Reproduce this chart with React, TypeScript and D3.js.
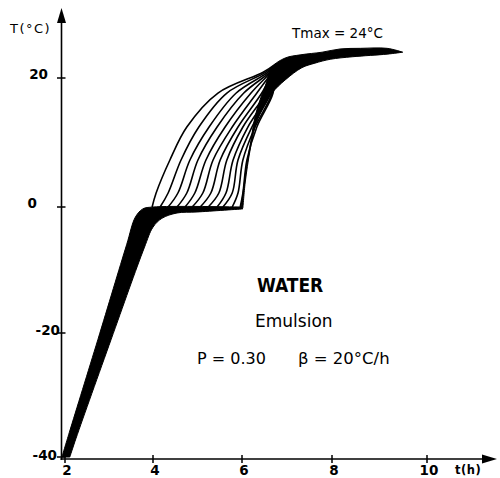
import React from "react";
import * as d3 from "d3";

type P = [number, number];

// axis ticks
const xTicks = [2, 4, 6, 8, 10];
const yTicks = [-40, -20, 0, 20];
const xTickLabels = ["2", "4", "6", "8", "10"];
const yTickLabels = ["-40", "-20", "0", "20"];

// heating ramp band (t in h, T in °C): left/upper edge and right/lower edge
const rampLeft: P[] = [
  [1.93, -40], [2.1, -36.0], [2.75, -21.0], [3.4, -6.0], [3.6, -1.6],
  [3.77, -0.3], [4.0, 0], [5.98, 0],
];
const rampRight: P[] = [
  [2.11, -40], [2.25, -37.0], [3.05, -21.0], [3.8, -6.5], [4.0, -3.2], [4.2, -1.8],
  [4.54, -0.95], [4.99, -0.79], [6.02, -0.3],
];

// fan of melting curves: temperature levels and the time each curve crosses them
const fanLevels = [0, 2.17, 7.29, 12.4, 17.67, 20.9, 22.2];
const fanTimes = [
  [3.98, 4.07, 4.38, 4.76, 5.46, 6.47, 6.75],
  [4.16, 4.34, 4.63, 5.03, 5.66, 6.53, 6.76],
  [4.34, 4.56, 4.83, 5.26, 5.87, 6.58, 6.77],
  [4.54, 4.76, 5.01, 5.44, 6.04, 6.62, 6.78],
  [4.72, 4.94, 5.19, 5.62, 6.2, 6.64, 6.79],
  [4.88, 5.12, 5.35, 5.78, 6.33, 6.67, 6.8],
  [5.06, 5.3, 5.51, 5.91, 6.44, 6.69, 6.8],
  [5.24, 5.48, 5.66, 6.02, 6.53, 6.71, 6.81],
  [5.44, 5.64, 5.8, 6.13, 6.6, 6.71, 6.81],
  [5.57, 5.78, 5.91, 6.22, 6.64, 6.73, 6.82],
  [5.78, 5.91, 6.02, 6.29, 6.67, 6.73, 6.82],
  [5.96, 6.02, 6.11, 6.33, 6.69, 6.73, 6.82],
];

// final thick band up to Tmax
const bandUpper: P[] = [
  [5.98, 0], [6.09, 5.7], [6.2, 10.4], [6.29, 14.0], [6.4, 16.6], [6.52, 18.8],
  [6.67, 21.7], [6.96, 23.1], [7.31, 23.6], [7.78, 24.0], [8.17, 24.5],
  [8.6, 24.6], [9.16, 24.6], [9.49, 24.0],
];
const bandLower: P[] = [
  [6.02, -0.15], [6.07, 3.72], [6.18, 8.84], [6.29, 12.4], [6.44, 15.0],
  [6.67, 17.7], [6.96, 19.7], [7.33, 21.6], [7.62, 22.3], [7.96, 22.9],
  [8.44, 23.3], [9.16, 23.7], [9.49, 24.0],
];

const W = 500;
const H = 478;
const AXIS_X = 61.5;
const AXIS_Y = 459;
const yLabelRight = [57, 60, 37, 48];
const yLabelBase = [460, 335, 208, 79];

export default function App() {
  const x = d3.scaleLinear().domain([2, 4, 6, 8, 10]).range([65, 153, 242, 332, 427]);
  const y = d3.scaleLinear().domain([-40, -20, 0, 20]).range([457, 333, 207, 78]);

  const line = d3
    .line<P>()
    .x((d) => x(d[0]))
    .y((d) => y(d[1]))
    .curve(d3.curveCatmullRom.alpha(0.5));

  const closed = (a: P[], b: P[]) => {
    const p1 = line(a) || "";
    const p2 = (line(b.slice().reverse()) || "").replace(/^M/, "L");
    return p1 + p2 + "Z";
  };

  const rampPath = closed(rampLeft, rampRight);
  const bandPath = closed(bandUpper, bandLower);

  const fanPaths = fanTimes.map((ts) =>
    line(ts.map((t, i) => [t, fanLevels[i]] as P)) || ""
  );

  const font = "'DejaVu Sans', sans-serif";

  return (
    <svg
      width={W}
      height={H}
      viewBox={`0 0 ${W} ${H}`}
      style={{ position: "absolute", left: 0, top: 0, background: "#fff" }}
    >
      <rect x={0} y={0} width={W} height={H} fill="#fff" />
      {/* axes */}
      <line x1={AXIS_X} y1={AXIS_Y + 1} x2={AXIS_X} y2={16} stroke="#000" strokeWidth={1.6} />
      <path d={`M${AXIS_X},8 L${AXIS_X - 4.5},23 L${AXIS_X + 4.5},23 Z`} fill="#000" />
      <line x1={AXIS_X - 1} y1={AXIS_Y} x2={488} y2={AXIS_Y} stroke="#000" strokeWidth={1.6} />
      <path d={`M497,${AXIS_Y} L482,${AXIS_Y - 4.5} L482,${AXIS_Y + 4.5} Z`} fill="#000" />

      {yTicks.map((v, i) => (
        <g key={"y" + v}>
          <line x1={AXIS_X - 4.5} x2={AXIS_X + 4} y1={y(v)} y2={y(v)} stroke="#000" strokeWidth={1.5} />
          <text
            x={yLabelRight[i]}
            y={yLabelBase[i]}
            textAnchor="end"
            fontFamily={font}
            fontSize={13.5}
            fontWeight="bold"
          >
            {yTickLabels[i]}
          </text>
        </g>
      ))}
      {xTicks.map((v, i) => (
        <g key={"x" + v}>
          <line x1={x(v)} x2={x(v)} y1={AXIS_Y - 4} y2={AXIS_Y + 4} stroke="#000" strokeWidth={1.5} />
          <text
            x={x(v) + 2}
            y={475}
            textAnchor="middle"
            fontFamily={font}
            fontSize={13.5}
            fontWeight="bold"
          >
            {xTickLabels[i]}
          </text>
        </g>
      ))}
      <text x={10} y={33} fontFamily={font} fontSize={13} letterSpacing={1.5}>
        T(°C)
      </text>
      <text x={455} y={474} fontFamily={font} fontSize={11.5} fontWeight="bold" letterSpacing={0.5}>
        t(h)
      </text>

      {/* curves */}
      {fanPaths.map((d, i) => (
        <path key={i} d={d} fill="none" stroke="#000" strokeWidth={1.6} />
      ))}
      <path d={rampPath} fill="#000" stroke="#000" strokeWidth={1} />
      <path d={bandPath} fill="#000" stroke="#000" strokeWidth={1} />

      {/* annotations */}
      <text x={292} y={38} fontFamily={font} fontSize={13.5}>
        Tmax = 24°C
      </text>
      <text
        x={257}
        y={292}
        fontFamily="'DejaVu Sans Condensed', 'DejaVu Sans', sans-serif"
        fontSize={19}
        fontWeight="bold"
      >
        WATER
      </text>
      <text x={255} y={327} fontFamily={font} fontSize={17}>
        Emulsion
      </text>
      <text x={197} y={364} fontFamily={font} fontSize={16}>
        P = 0.30
      </text>
      <text x={298} y={364} fontFamily={font} fontSize={16.5}>
        β = 20°C/h
      </text>
    </svg>
  );
}
